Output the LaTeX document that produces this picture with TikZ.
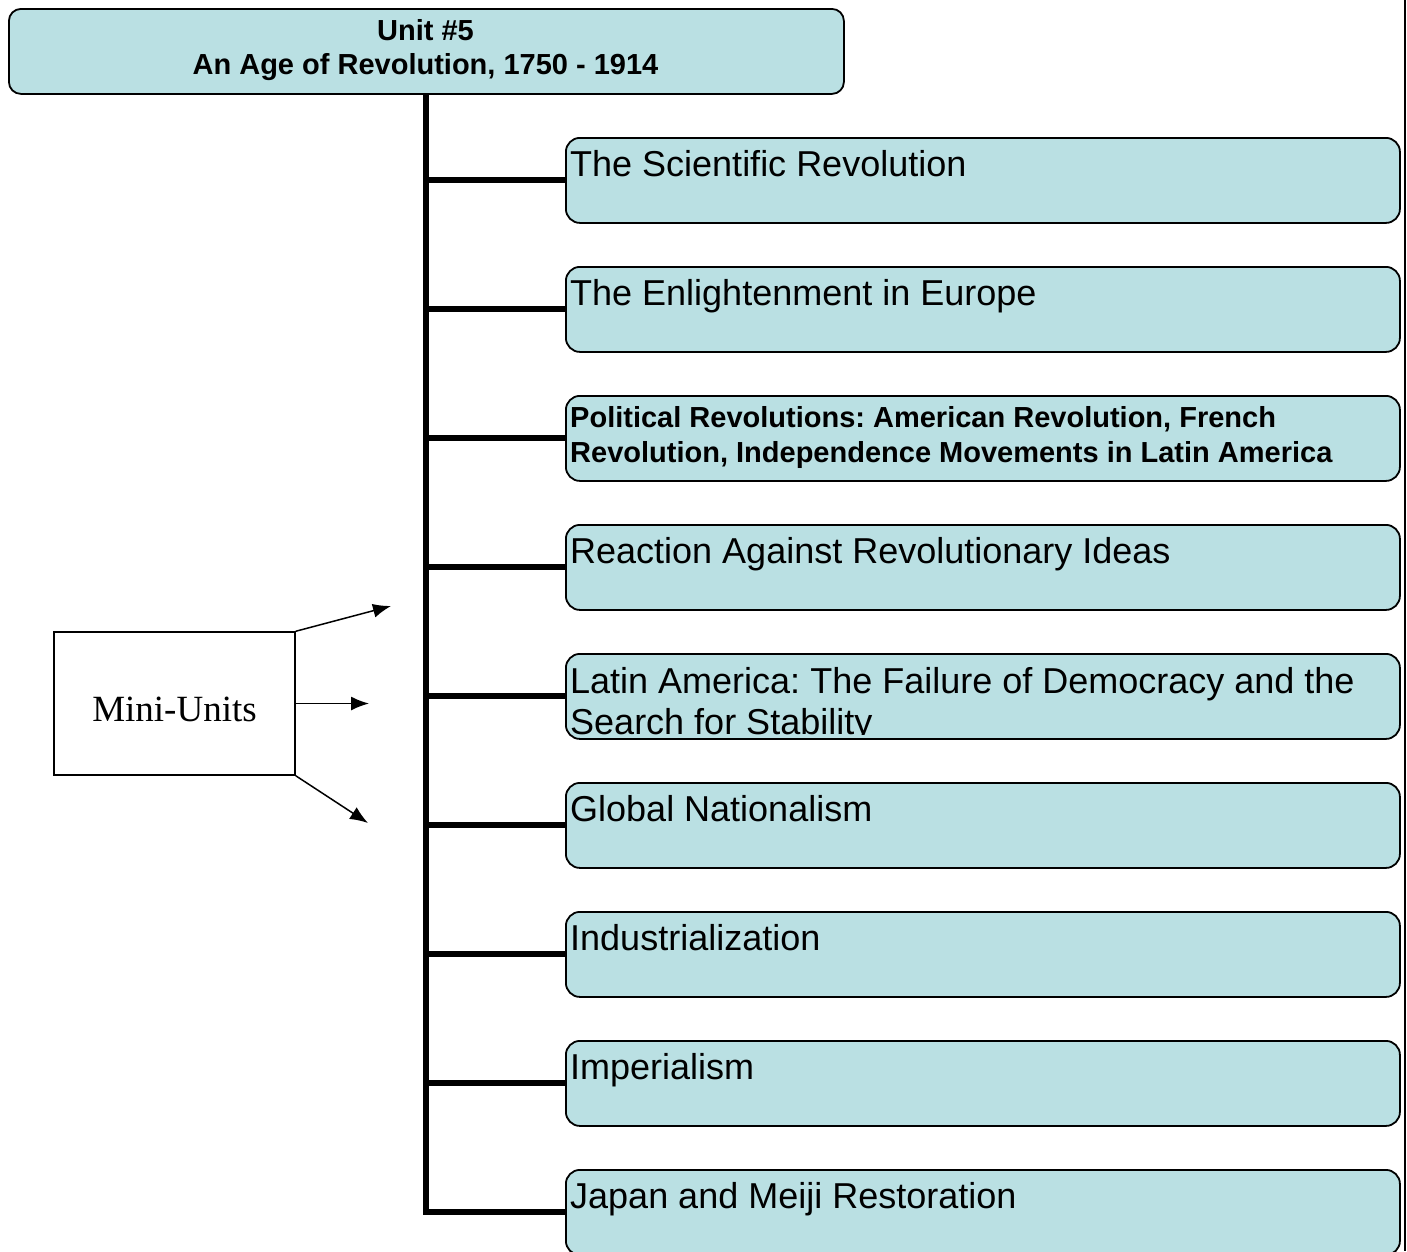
\documentclass[tikz,border=0pt]{standalone}
\usepackage{fontspec}
\setmainfont{Liberation Sans}
\newfontfamily\serifmini{Liberation Serif}
\usetikzlibrary{arrows.meta}
\definecolor{boxblue}{RGB}{186,224,227}
\tikzset{
  ubox/.style={draw=black, line width=1.8pt, fill=boxblue, rounded corners=14pt, anchor=north west, minimum width=834pt, minimum height=85pt, inner sep=0pt},
  topbox/.style={draw=black, line width=1.8pt, fill=boxblue, rounded corners=12pt, anchor=north west, minimum width=835pt, minimum height=85pt, inner sep=0pt},
  utext/.style={anchor=base west, inner sep=0pt, font=\fontsize{36}{40}\selectfont},
  btext/.style={anchor=base west, inner sep=0pt, font=\fontsize{29}{35}\selectfont\bfseries},
  spine/.style={line width=6pt},
  minibox/.style={draw=black, line width=1.5pt, minimum width=241pt, minimum height=143pt, inner sep=0pt},
  minitext/.style={inner sep=0pt, font=\fontsize{37}{40}\selectfont\serifmini},
  miniarrow/.style={line width=1.5pt, -{Latex[length=18pt,width=14pt]}}
}
\begin{document}
\frenchspacing
\begin{tikzpicture}[x=1pt,y=-1pt]
\useasboundingbox (0,0) rectangle (1407,1251);
% right edge rule
\draw[line width=2pt] (1405,0) -- (1405,1251);
% top box
\node[topbox] (top) at (8,8) {};
\node[anchor=base, inner sep=0pt, font=\fontsize{29}{34}\selectfont\bfseries] (title1) at (425.5,40) {Unit \#5};
\node[anchor=base, inner sep=0pt, font=\fontsize{29}{34}\selectfont\bfseries] (title2) at (425.5,74) {An Age of Revolution, 1750 - 1914};
% unit boxes
\node[ubox] (b1) at (565,137) {};
\node[ubox] (b2) at (565,266) {};
\node[ubox] (b3) at (565,395) {};
\node[ubox] (b4) at (565,524) {};
\node[ubox] (b5) at (565,653) {};
\node[ubox] (b6) at (565,782) {};
\node[ubox] (b7) at (565,911) {};
\node[ubox] (b8) at (565,1040) {};
\node[ubox] (b9) at (565,1169) {};
% texts
\node[utext] (t1) at (570,176) {The Scientific Revolution};
\node[utext] (t2) at (570,305) {The Enlightenment in Europe};
\node[btext] (t3a) at (570,427) {Political Revolutions: American Revolution, French};
\node[btext] (t3b) at (570,462) {Revolution, Independence Movements in Latin America};
\node[utext] (t4) at (570,563) {Reaction Against Revolutionary Ideas};
\begin{scope}
\clip (b5.north west) rectangle ([yshift=5pt]b5.south east);
\node[utext] (t5a) at (570,693) {Latin America: The Failure of Democracy and the};
\node[utext] (t5b) at (570,734) {Search for Stability};
\end{scope}
\node[utext] (t6) at (570,821) {Global Nationalism};
\node[utext] (t7) at (570,950) {Industrialization};
\node[utext] (t8) at (570,1079) {Imperialism};
\node[utext] (t9) at (570,1208) {Japan and Meiji Restoration};
% spine and branches
\draw[spine] (top.south) |- (b9.west);
\foreach \i in {1,...,8}{
  \draw[spine] (top.south |- b\i.west) -- (b\i.west);
}
% mini units
\node[minibox] (mini) at (174.5,703.5) {};
\node[minitext] (minilabel) at (174.5,709) {Mini-Units};
\coordinate (a1) at (391,606);
\coordinate (a2) at (369,703.5);
\coordinate (a3) at (368,823);
\draw[miniarrow] (mini.north east) -- (a1);
\draw[miniarrow] (mini.east) -- (a2);
\draw[miniarrow] (mini.south east) -- (a3);
\end{tikzpicture}
\end{document}
